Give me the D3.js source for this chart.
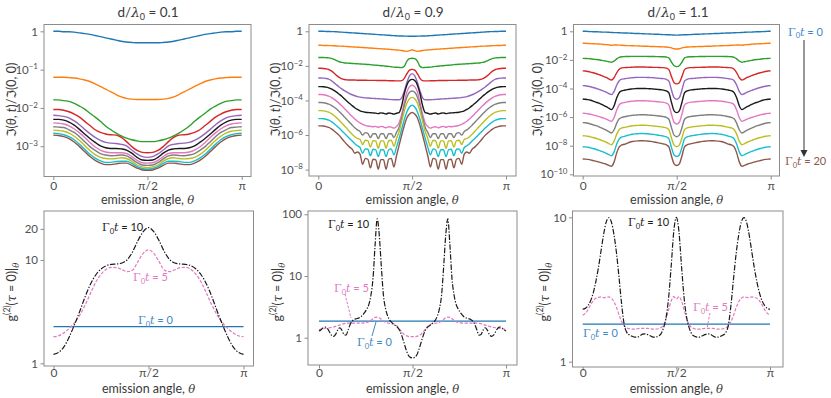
<!DOCTYPE html>
<html>
<head>
<meta charset="utf-8">
<script src="https://cdn.jsdelivr.net/npm/d3@7"></script>
<style>
  body { margin: 0; background: #fff; }
  text { font-family: Lato, "DejaVu Sans", sans-serif; }
</style>
</head>
<body>
<svg id="chart" width="831" height="398"></svg>
<script>
// ---- data ----
// every series is sampled on a uniform grid from theta = 0 to pi
var thetaTicks = [0, 90, 180];
var xTickLabels = ["0", "π/2", "π"];
var gammaT = [0, 2, 4, 6, 8, 10, 12, 14, 16, 18, 20];
var dOverLambda = ["0.1", "0.9", "1.1"];
var curveColors = ["#1f77b4", "#ff7f0e", "#2ca02c", "#d62728", "#9467bd", "#1a1a1a",
                   "#e377c2", "#7f7f7f", "#bcbd22", "#17becf", "#8c564b"];

// log10 of I(theta,t)/I(0,0), one row per Gamma0 t, d/lambda0 = 0.1 (5 deg steps)
var logI_d01 = [
  [0,0,-0.01,-0.01,-0.02,-0.04,-0.06,-0.08,-0.11,-0.14,-0.17,-0.2,-0.23,-0.26,-0.28,-0.29,-0.3,-0.3,-0.3,-0.3,-0.3,-0.29,-0.28,-0.26,-0.23,-0.2,-0.17,-0.14,-0.11,-0.08,-0.06,-0.04,-0.02,-0.01,-0.01,0,0],
  [-1.2,-1.2,-1.2,-1.21,-1.22,-1.24,-1.27,-1.31,-1.37,-1.44,-1.51,-1.58,-1.65,-1.71,-1.75,-1.77,-1.78,-1.78,-1.78,-1.78,-1.78,-1.77,-1.75,-1.71,-1.65,-1.58,-1.51,-1.44,-1.37,-1.31,-1.27,-1.24,-1.22,-1.21,-1.2,-1.2,-1.2],
  [-1.79,-1.79,-1.81,-1.83,-1.88,-1.95,-2.03,-2.14,-2.24,-2.35,-2.47,-2.57,-2.66,-2.73,-2.79,-2.83,-2.86,-2.88,-2.88,-2.88,-2.86,-2.83,-2.79,-2.73,-2.66,-2.57,-2.47,-2.35,-2.24,-2.14,-2.03,-1.95,-1.88,-1.83,-1.81,-1.79,-1.79],
  [-2.04,-2.04,-2.06,-2.1,-2.16,-2.24,-2.35,-2.46,-2.57,-2.64,-2.68,-2.7,-2.71,-2.77,-2.88,-3.01,-3.11,-3.16,-3.17,-3.16,-3.11,-3.01,-2.88,-2.77,-2.71,-2.7,-2.68,-2.64,-2.57,-2.46,-2.35,-2.24,-2.16,-2.1,-2.06,-2.04,-2.04],
  [-2.19,-2.2,-2.22,-2.26,-2.34,-2.44,-2.56,-2.67,-2.77,-2.85,-2.9,-2.92,-2.93,-2.95,-2.99,-3.1,-3.2,-3.27,-3.29,-3.27,-3.2,-3.1,-2.99,-2.95,-2.93,-2.92,-2.9,-2.85,-2.77,-2.67,-2.56,-2.44,-2.34,-2.26,-2.22,-2.2,-2.19],
  [-2.3,-2.3,-2.32,-2.37,-2.45,-2.56,-2.68,-2.8,-2.9,-2.99,-3.04,-3.06,-3.06,-3.07,-3.1,-3.18,-3.29,-3.36,-3.37,-3.36,-3.29,-3.18,-3.1,-3.07,-3.06,-3.06,-3.04,-2.99,-2.9,-2.8,-2.68,-2.56,-2.45,-2.37,-2.32,-2.3,-2.3],
  [-2.39,-2.4,-2.42,-2.47,-2.55,-2.65,-2.77,-2.9,-3.02,-3.1,-3.15,-3.17,-3.17,-3.17,-3.19,-3.27,-3.37,-3.43,-3.44,-3.43,-3.37,-3.27,-3.19,-3.17,-3.17,-3.17,-3.15,-3.1,-3.02,-2.9,-2.77,-2.65,-2.55,-2.47,-2.42,-2.4,-2.39],
  [-2.49,-2.5,-2.51,-2.57,-2.64,-2.75,-2.88,-3.01,-3.11,-3.19,-3.23,-3.25,-3.24,-3.23,-3.25,-3.33,-3.43,-3.49,-3.5,-3.49,-3.43,-3.33,-3.25,-3.23,-3.24,-3.25,-3.23,-3.19,-3.11,-3.01,-2.88,-2.75,-2.64,-2.57,-2.51,-2.5,-2.49],
  [-2.58,-2.59,-2.61,-2.66,-2.74,-2.85,-2.98,-3.11,-3.22,-3.29,-3.32,-3.33,-3.32,-3.3,-3.32,-3.39,-3.49,-3.54,-3.56,-3.54,-3.49,-3.39,-3.32,-3.3,-3.32,-3.33,-3.32,-3.29,-3.22,-3.11,-2.98,-2.85,-2.74,-2.66,-2.61,-2.59,-2.58],
  [-2.66,-2.67,-2.7,-2.75,-2.83,-2.95,-3.08,-3.21,-3.31,-3.38,-3.42,-3.42,-3.4,-3.39,-3.39,-3.45,-3.53,-3.58,-3.6,-3.58,-3.53,-3.45,-3.39,-3.39,-3.4,-3.42,-3.42,-3.38,-3.31,-3.21,-3.08,-2.95,-2.83,-2.75,-2.7,-2.67,-2.66],
  [-2.71,-2.72,-2.75,-2.8,-2.89,-3.01,-3.14,-3.27,-3.37,-3.44,-3.48,-3.48,-3.46,-3.44,-3.44,-3.5,-3.57,-3.62,-3.63,-3.62,-3.57,-3.5,-3.44,-3.44,-3.46,-3.48,-3.48,-3.44,-3.37,-3.27,-3.14,-3.01,-2.89,-2.8,-2.75,-2.72,-2.71]
];

// d/lambda0 = 0.9 (2.5 deg steps)
var logI_d09 = [
  [0,0,0,-0.01,-0.01,-0.02,-0.02,-0.03,-0.04,-0.05,-0.06,-0.07,-0.08,-0.09,-0.1,-0.11,-0.12,-0.13,-0.14,-0.15,-0.16,-0.17,-0.18,-0.19,-0.2,-0.21,-0.22,-0.23,-0.24,-0.25,-0.26,-0.27,-0.27,-0.28,-0.28,-0.29,-0.29,
   -0.29,-0.28,-0.28,-0.27,-0.27,-0.26,-0.25,-0.24,-0.23,-0.22,-0.21,-0.2,-0.19,-0.18,-0.17,-0.16,-0.15,-0.14,-0.13,-0.12,-0.11,-0.1,-0.09,-0.08,-0.07,-0.06,-0.05,-0.04,-0.03,-0.02,-0.02,-0.01,-0.01,0,0,0],
  [-0.81,-0.81,-0.82,-0.82,-0.83,-0.83,-0.84,-0.85,-0.86,-0.86,-0.87,-0.88,-0.89,-0.9,-0.91,-0.92,-0.93,-0.94,-0.95,-0.96,-0.97,-0.98,-0.99,-1,-1.01,-1.02,-1.03,-1.04,-1.05,-1.07,-1.08,-1.09,-1.11,-1.14,-1.16,-1.12,-1.07,
   -1.12,-1.16,-1.14,-1.11,-1.09,-1.08,-1.07,-1.05,-1.04,-1.03,-1.02,-1.01,-1,-0.99,-0.98,-0.97,-0.96,-0.95,-0.94,-0.93,-0.92,-0.91,-0.9,-0.89,-0.88,-0.87,-0.86,-0.86,-0.85,-0.84,-0.83,-0.83,-0.82,-0.82,-0.81,-0.81],
  [-1.52,-1.52,-1.52,-1.53,-1.54,-1.57,-1.62,-1.69,-1.76,-1.8,-1.83,-1.84,-1.85,-1.86,-1.87,-1.88,-1.89,-1.9,-1.91,-1.92,-1.93,-1.95,-1.96,-1.97,-1.99,-2,-2.02,-2.03,-2.05,-2.07,-2.08,-2.09,-2.1,-2.02,-1.72,-1.58,-1.56,
   -1.58,-1.72,-2.02,-2.1,-2.09,-2.08,-2.07,-2.05,-2.03,-2.02,-2,-1.99,-1.97,-1.96,-1.95,-1.93,-1.92,-1.91,-1.9,-1.89,-1.88,-1.87,-1.86,-1.85,-1.84,-1.83,-1.8,-1.76,-1.69,-1.62,-1.57,-1.54,-1.53,-1.52,-1.52,-1.52],
  [-2.14,-2.14,-2.15,-2.17,-2.21,-2.29,-2.41,-2.55,-2.67,-2.75,-2.79,-2.81,-2.82,-2.82,-2.82,-2.83,-2.83,-2.83,-2.83,-2.84,-2.84,-2.84,-2.84,-2.85,-2.85,-2.85,-2.85,-2.86,-2.86,-2.86,-2.87,-2.87,-2.85,-2.72,-2.45,-2.25,-2.2,
   -2.25,-2.45,-2.72,-2.85,-2.87,-2.87,-2.86,-2.86,-2.86,-2.85,-2.85,-2.85,-2.85,-2.84,-2.84,-2.84,-2.84,-2.83,-2.83,-2.83,-2.83,-2.82,-2.82,-2.82,-2.81,-2.79,-2.75,-2.67,-2.55,-2.41,-2.29,-2.21,-2.17,-2.15,-2.14,-2.14],
  [-2.7,-2.7,-2.71,-2.73,-2.77,-2.85,-2.97,-3.1,-3.22,-3.33,-3.43,-3.52,-3.6,-3.67,-3.73,-3.78,-3.81,-3.83,-3.85,-3.86,-3.87,-3.88,-3.89,-3.9,-3.91,-3.92,-3.93,-3.94,-3.95,-3.96,-3.96,-3.96,-3.85,-3.45,-2.95,-2.58,-2.45,
   -2.58,-2.95,-3.45,-3.85,-3.96,-3.96,-3.96,-3.95,-3.94,-3.93,-3.92,-3.91,-3.9,-3.89,-3.88,-3.87,-3.86,-3.85,-3.83,-3.81,-3.78,-3.73,-3.67,-3.6,-3.52,-3.43,-3.33,-3.22,-3.1,-2.97,-2.85,-2.77,-2.73,-2.71,-2.7,-2.7],
  [-3.2,-3.2,-3.21,-3.23,-3.27,-3.33,-3.42,-3.52,-3.64,-3.76,-3.9,-4.04,-4.18,-4.3,-4.42,-4.52,-4.6,-4.65,-4.68,-4.7,-4.71,-4.72,-4.73,-4.76,-4.72,-4.74,-4.78,-4.73,-4.75,-4.79,-4.74,-4.7,-4.3,-3.6,-3.1,-2.85,-2.78,
   -2.85,-3.1,-3.6,-4.3,-4.7,-4.74,-4.79,-4.75,-4.73,-4.78,-4.74,-4.72,-4.76,-4.73,-4.72,-4.71,-4.7,-4.68,-4.65,-4.6,-4.52,-4.42,-4.3,-4.18,-4.04,-3.9,-3.76,-3.64,-3.52,-3.42,-3.33,-3.27,-3.23,-3.21,-3.2,-3.2],
  [-3.66,-3.66,-3.67,-3.7,-3.75,-3.82,-3.92,-4.04,-4.17,-4.31,-4.46,-4.62,-4.78,-4.93,-5.07,-5.2,-5.3,-5.38,-5.44,-5.48,-5.5,-5.52,-5.5,-5.55,-5.5,-5.53,-5.58,-5.52,-5.54,-5.6,-5.5,-5.3,-4.8,-4.1,-3.5,-3.2,-3.12,
   -3.2,-3.5,-4.1,-4.8,-5.3,-5.5,-5.6,-5.54,-5.52,-5.58,-5.53,-5.5,-5.55,-5.5,-5.52,-5.5,-5.48,-5.44,-5.38,-5.3,-5.2,-5.07,-4.93,-4.78,-4.62,-4.46,-4.31,-4.17,-4.04,-3.92,-3.82,-3.75,-3.7,-3.67,-3.66,-3.66],
  [-4.12,-4.12,-4.13,-4.16,-4.21,-4.28,-4.38,-4.5,-4.64,-4.79,-4.95,-5.11,-5.27,-5.43,-5.58,-5.7,-5.8,-6,-5.86,-5.9,-6.15,-5.92,-5.93,-6.2,-5.93,-5.93,-6.2,-5.93,-5.92,-6.15,-5.85,-5.55,-5,-4.3,-3.8,-3.53,-3.45,
   -3.53,-3.8,-4.3,-5,-5.55,-5.85,-6.15,-5.92,-5.93,-6.2,-5.93,-5.93,-6.2,-5.93,-5.92,-6.15,-5.9,-5.86,-6,-5.8,-5.7,-5.58,-5.43,-5.27,-5.11,-4.95,-4.79,-4.64,-4.5,-4.38,-4.28,-4.21,-4.16,-4.13,-4.12,-4.12],
  [-4.59,-4.59,-4.6,-4.63,-4.68,-4.76,-4.87,-5,-5.15,-5.31,-5.47,-5.63,-5.8,-5.96,-6.1,-6.2,-6.25,-6.55,-6.3,-6.32,-6.7,-6.33,-6.34,-6.76,-6.34,-6.34,-6.76,-6.33,-6.3,-6.65,-6.2,-5.8,-5.2,-4.6,-4.15,-3.9,-3.82,
   -3.9,-4.15,-4.6,-5.2,-5.8,-6.2,-6.65,-6.3,-6.33,-6.76,-6.34,-6.34,-6.76,-6.34,-6.33,-6.7,-6.32,-6.3,-6.55,-6.25,-6.2,-6.1,-5.96,-5.8,-5.63,-5.47,-5.31,-5.15,-5,-4.87,-4.76,-4.68,-4.63,-4.6,-4.59,-4.59],
  [-5.05,-5.05,-5.06,-5.09,-5.14,-5.22,-5.33,-5.46,-5.6,-5.75,-5.9,-6.05,-6.2,-6.35,-6.5,-6.62,-6.72,-7.05,-6.8,-6.82,-7.2,-6.82,-6.85,-7.25,-6.85,-6.85,-7.25,-6.85,-6.8,-7.15,-6.7,-6.2,-5.65,-5.1,-4.65,-4.38,-4.28,
   -4.38,-4.65,-5.1,-5.65,-6.2,-6.7,-7.15,-6.8,-6.85,-7.25,-6.85,-6.85,-7.25,-6.85,-6.82,-7.2,-6.82,-6.8,-7.05,-6.72,-6.62,-6.5,-6.35,-6.2,-6.05,-5.9,-5.75,-5.6,-5.46,-5.33,-5.22,-5.14,-5.09,-5.06,-5.05,-5.05],
  [-5.47,-5.47,-5.48,-5.51,-5.56,-5.64,-5.75,-5.88,-6.02,-6.2,-6.38,-6.55,-6.7,-6.82,-7.05,-6.98,-7.1,-7.7,-7.35,-7.4,-7.9,-7.4,-7.42,-7.98,-7.42,-7.42,-7.98,-7.4,-7.35,-7.85,-7.2,-6.6,-6,-5.45,-5,-4.78,-4.7,
   -4.78,-5,-5.45,-6,-6.6,-7.2,-7.85,-7.35,-7.4,-7.98,-7.42,-7.42,-7.98,-7.42,-7.4,-7.9,-7.4,-7.35,-7.7,-7.1,-6.98,-7.05,-6.82,-6.7,-6.55,-6.38,-6.2,-6.02,-5.88,-5.75,-5.64,-5.56,-5.51,-5.48,-5.47,-5.47]
];

// d/lambda0 = 1.1 (2.5 deg steps)
var logI_d11 = [
  [0,0,-0.01,-0.02,-0.03,-0.03,-0.04,-0.05,-0.06,-0.06,-0.07,-0.08,-0.09,-0.09,-0.1,-0.11,-0.12,-0.12,-0.13,-0.14,-0.15,-0.15,-0.16,-0.17,-0.18,-0.18,-0.19,-0.2,-0.21,-0.21,-0.22,-0.23,-0.24,-0.24,-0.25,-0.26,-0.27,
   -0.26,-0.25,-0.24,-0.24,-0.23,-0.22,-0.21,-0.21,-0.2,-0.19,-0.18,-0.18,-0.17,-0.16,-0.15,-0.15,-0.14,-0.13,-0.12,-0.12,-0.11,-0.1,-0.09,-0.09,-0.08,-0.07,-0.06,-0.06,-0.05,-0.04,-0.03,-0.03,-0.02,-0.01,0,0],
  [-0.84,-0.84,-0.85,-0.86,-0.87,-0.88,-0.89,-0.9,-0.92,-0.93,-0.95,-0.97,-0.96,-0.96,-0.97,-0.98,-0.99,-1,-1,-1.01,-1.02,-1.02,-1.03,-1.04,-1.04,-1.05,-1.06,-1.06,-1.07,-1.08,-1.08,-1.09,-1.1,-1.12,-1.16,-1.22,-1.24,
   -1.22,-1.16,-1.12,-1.1,-1.09,-1.08,-1.08,-1.07,-1.06,-1.06,-1.05,-1.04,-1.04,-1.03,-1.02,-1.02,-1.01,-1,-1,-0.99,-0.98,-0.97,-0.96,-0.96,-0.97,-0.95,-0.93,-0.92,-0.9,-0.89,-0.88,-0.87,-0.86,-0.85,-0.84,-0.84],
  [-1.89,-1.9,-1.91,-1.92,-1.95,-1.97,-1.99,-2.02,-2.05,-2.09,-2.13,-2.16,-2.09,-1.93,-1.82,-1.78,-1.77,-1.76,-1.76,-1.75,-1.75,-1.75,-1.75,-1.75,-1.75,-1.76,-1.76,-1.76,-1.77,-1.77,-1.78,-1.78,-1.8,-1.86,-2.16,-2.41,-2.47,
   -2.41,-2.16,-1.86,-1.8,-1.78,-1.78,-1.77,-1.77,-1.76,-1.76,-1.76,-1.75,-1.75,-1.75,-1.75,-1.75,-1.75,-1.76,-1.76,-1.77,-1.78,-1.82,-1.93,-2.09,-2.16,-2.13,-2.09,-2.05,-2.02,-1.99,-1.97,-1.95,-1.92,-1.91,-1.9,-1.89],
  [-2.77,-2.78,-2.81,-2.85,-2.9,-2.95,-3.01,-3.08,-3.15,-3.23,-3.33,-3.41,-3.25,-2.9,-2.65,-2.56,-2.54,-2.53,-2.52,-2.51,-2.5,-2.5,-2.5,-2.5,-2.5,-2.51,-2.51,-2.52,-2.52,-2.53,-2.54,-2.54,-2.57,-2.68,-3.17,-3.59,-3.68,
   -3.59,-3.17,-2.68,-2.57,-2.54,-2.54,-2.53,-2.52,-2.52,-2.51,-2.51,-2.5,-2.5,-2.5,-2.5,-2.5,-2.51,-2.52,-2.53,-2.54,-2.56,-2.65,-2.9,-3.25,-3.41,-3.33,-3.23,-3.15,-3.08,-3.01,-2.95,-2.9,-2.85,-2.81,-2.78,-2.77],
  [-3.8,-3.81,-3.84,-3.88,-3.93,-3.98,-4.04,-4.11,-4.18,-4.26,-4.35,-4.43,-4.22,-3.77,-3.46,-3.35,-3.32,-3.29,-3.27,-3.25,-3.23,-3.22,-3.22,-3.22,-3.22,-3.23,-3.24,-3.25,-3.27,-3.28,-3.3,-3.31,-3.36,-3.49,-4.11,-4.64,-4.76,
   -4.64,-4.11,-3.49,-3.36,-3.31,-3.3,-3.28,-3.27,-3.25,-3.24,-3.23,-3.22,-3.22,-3.22,-3.22,-3.23,-3.25,-3.27,-3.29,-3.32,-3.35,-3.46,-3.77,-4.22,-4.43,-4.35,-4.26,-4.18,-4.11,-4.04,-3.98,-3.93,-3.88,-3.84,-3.81,-3.8],
  [-4.73,-4.75,-4.78,-4.82,-4.88,-4.95,-5.01,-5.09,-5.18,-5.27,-5.38,-5.48,-5.22,-4.67,-4.29,-4.16,-4.12,-4.08,-4.05,-4.03,-4.01,-4,-4,-4,-4,-4.01,-4.02,-4.04,-4.05,-4.07,-4.09,-4.11,-4.17,-4.31,-4.98,-5.56,-5.69,
   -5.56,-4.98,-4.31,-4.17,-4.11,-4.09,-4.07,-4.05,-4.04,-4.02,-4.01,-4,-4,-4,-4,-4.01,-4.03,-4.05,-4.08,-4.12,-4.16,-4.29,-4.67,-5.22,-5.48,-5.38,-5.27,-5.18,-5.09,-5.01,-4.95,-4.88,-4.82,-4.78,-4.75,-4.73],
  [-5.73,-5.74,-5.77,-5.8,-5.85,-5.9,-5.95,-6.01,-6.07,-6.14,-6.23,-6.3,-6.05,-5.52,-5.14,-5.02,-4.98,-4.94,-4.91,-4.89,-4.87,-4.86,-4.86,-4.86,-4.86,-4.87,-4.88,-4.9,-4.91,-4.93,-4.95,-4.97,-5.03,-5.16,-5.8,-6.36,-6.48,
   -6.36,-5.8,-5.16,-5.03,-4.97,-4.95,-4.93,-4.91,-4.9,-4.88,-4.87,-4.86,-4.86,-4.86,-4.86,-4.87,-4.89,-4.91,-4.94,-4.98,-5.02,-5.14,-5.52,-6.05,-6.3,-6.23,-6.14,-6.07,-6.01,-5.95,-5.9,-5.85,-5.8,-5.77,-5.74,-5.73],
  [-6.39,-6.4,-6.43,-6.48,-6.54,-6.6,-6.66,-6.74,-6.82,-6.91,-7.02,-7.11,-6.9,-6.44,-6.12,-6.02,-5.98,-5.94,-5.9,-5.88,-5.86,-5.85,-5.84,-5.84,-5.84,-5.85,-5.87,-5.88,-5.9,-5.92,-5.94,-5.97,-6.02,-6.15,-6.74,-7.26,-7.37,
   -7.26,-6.74,-6.15,-6.02,-5.97,-5.94,-5.92,-5.9,-5.88,-5.87,-5.85,-5.84,-5.84,-5.84,-5.85,-5.86,-5.88,-5.9,-5.94,-5.98,-6.02,-6.12,-6.44,-6.9,-7.11,-7.02,-6.91,-6.82,-6.74,-6.66,-6.6,-6.54,-6.48,-6.43,-6.4,-6.39],
  [-7.3,-7.31,-7.34,-7.38,-7.43,-7.48,-7.54,-7.61,-7.68,-7.76,-7.85,-7.93,-7.7,-7.21,-6.87,-6.76,-6.72,-6.68,-6.64,-6.61,-6.59,-6.58,-6.57,-6.57,-6.57,-6.59,-6.6,-6.62,-6.64,-6.66,-6.68,-6.71,-6.76,-6.88,-7.46,-7.96,-8.07,
   -7.96,-7.46,-6.88,-6.76,-6.71,-6.68,-6.66,-6.64,-6.62,-6.6,-6.59,-6.57,-6.57,-6.57,-6.58,-6.59,-6.61,-6.64,-6.68,-6.72,-6.76,-6.87,-7.21,-7.7,-7.93,-7.85,-7.76,-7.68,-7.61,-7.54,-7.48,-7.43,-7.38,-7.34,-7.31,-7.3],
  [-8.07,-8.08,-8.11,-8.15,-8.2,-8.25,-8.31,-8.38,-8.45,-8.53,-8.62,-8.7,-8.45,-7.9,-7.52,-7.39,-7.35,-7.29,-7.24,-7.2,-7.17,-7.16,-7.15,-7.15,-7.16,-7.17,-7.19,-7.21,-7.24,-7.27,-7.3,-7.33,-7.39,-7.52,-8.13,-8.65,-8.76,
   -8.65,-8.13,-7.52,-7.39,-7.33,-7.3,-7.27,-7.24,-7.21,-7.19,-7.17,-7.16,-7.15,-7.15,-7.16,-7.17,-7.2,-7.24,-7.29,-7.35,-7.39,-7.52,-7.9,-8.45,-8.7,-8.62,-8.53,-8.45,-8.38,-8.31,-8.25,-8.2,-8.15,-8.11,-8.08,-8.07],
  [-8.93,-8.94,-8.96,-8.99,-9.04,-9.08,-9.13,-9.18,-9.24,-9.3,-9.38,-9.44,-9.15,-8.52,-8.09,-7.95,-7.9,-7.83,-7.76,-7.71,-7.68,-7.66,-7.65,-7.65,-7.66,-7.68,-7.7,-7.73,-7.76,-7.8,-7.84,-7.88,-7.94,-8.08,-8.72,-9.27,-9.39,
   -9.27,-8.72,-8.08,-7.94,-7.88,-7.84,-7.8,-7.76,-7.73,-7.7,-7.68,-7.66,-7.65,-7.65,-7.66,-7.68,-7.71,-7.76,-7.83,-7.9,-7.95,-8.09,-8.52,-9.15,-9.44,-9.38,-9.3,-9.24,-9.18,-9.13,-9.08,-9.04,-8.99,-8.96,-8.94,-8.93]
];

var ticksExp_d01 = [0, -1, -2, -3];
var ticksExp_d09 = [0, -2, -4, -6, -8];
var ticksExp_d11 = [0, -2, -4, -6, -8, -10];

// g2(tau=0)|theta for Gamma0 t = 0, 5, 10
var g2_d01_t0 = [2.26, 2.26];
var g2_d01_t5 = [1.81,1.85,1.98,2.18,2.48,2.94,3.67,4.75,6.08,7.26,8.13,8.49,8.43,8.05,7.71,8,9.64,11.6,12.5,11.6,9.64,8,7.71,8.05,8.43,8.49,8.13,7.26,6.08,4.75,3.67,2.94,2.48,2.18,1.98,1.85,1.81];
var g2_d01_t10 = [1.22,1.28,1.45,1.81,2.38,3.21,4.42,5.82,7.16,8.18,8.81,9.08,9.14,9.35,10.1,12.05,15.4,18.8,20.6,18.8,15.4,12.05,10.1,9.35,9.14,9.08,8.81,8.18,7.16,5.82,4.42,3.21,2.38,1.81,1.45,1.28,1.22];

var g2_d09_t0 = [1.86, 1.86];
var g2_d09_t5 = [1.36,1.38,1.4,1.42,1.44,1.45,1.47,1.49,1.53,1.57,1.6,1.64,1.69,1.71,1.73,1.73,1.73,1.73,1.73,1.73,1.73,1.73,1.75,1.77,1.82,1.91,2.03,2.14,2.16,2.11,1.98,1.86,1.77,1.73,1.71,1.69,1.67,1.6,1.49,1.35,1.22,1.13,1.08,1.05,1.04,1.04,
  1.04,1.05,1.08,1.13,1.22,1.35,1.49,1.6,1.67,1.69,1.71,1.73,1.77,1.86,1.98,2.11,2.16,2.14,2.03,1.91,1.82,1.77,1.75,1.73,1.73,1.73,1.73,1.73,1.73,1.73,1.73,1.71,1.69,1.64,1.6,1.57,1.53,1.49,1.47,1.45,1.44,1.42,1.4,1.38,1.36];
var g2_d09_t10 = [1.28,1.35,1.45,1.49,1.42,1.25,1.1,1.05,1.13,1.33,1.45,1.33,1.13,1.1,1.33,1.64,1.86,1.98,2.03,2.08,2.16,2.33,2.57,2.92,3.47,4.92,9.16,31.8,84,46.2,14.2,4.92,2.99,2.27,1.93,1.77,1.64,1.55,1.45,1.28,1.04,0.81,0.63,0.52,0.48,0.47,
  0.48,0.52,0.63,0.81,1.04,1.28,1.45,1.55,1.64,1.77,1.93,2.27,2.99,4.92,14.2,46.2,84,31.8,9.16,4.92,3.47,2.92,2.57,2.33,2.16,2.08,2.03,1.98,1.86,1.64,1.33,1.1,1.13,1.33,1.45,1.33,1.13,1.05,1.1,1.25,1.42,1.49,1.45,1.35,1.28];

var g2_d11_t0 = [1.82, 1.82];
var g2_d11_t5 = [2.1,2.16,2.28,2.47,2.63,2.75,2.79,2.81,2.78,2.79,2.81,2.75,2.61,2.37,2.1,1.89,1.77,1.71,1.69,1.68,1.68,1.69,1.7,1.7,1.7,1.7,1.69,1.68,1.68,1.69,1.72,1.79,1.98,2.28,2.63,2.82,2.72,
  2.82,2.63,2.28,1.98,1.79,1.72,1.69,1.68,1.68,1.69,1.7,1.7,1.7,1.7,1.69,1.68,1.68,1.69,1.71,1.77,1.89,2.1,2.37,2.61,2.75,2.81,2.79,2.78,2.81,2.79,2.75,2.63,2.47,2.28,2.16,2.1];
var g2_d11_t10 = [2.31,2.34,2.44,2.63,2.97,3.55,4.44,5.78,7.55,9.23,9.95,9.33,7.62,5.64,3.78,2.47,1.79,1.59,1.53,1.5,1.48,1.48,1.51,1.55,1.56,1.54,1.51,1.48,1.48,1.5,1.55,1.7,2,2.75,4.55,7.96,10,
  7.96,4.55,2.75,2,1.7,1.55,1.5,1.48,1.48,1.51,1.54,1.56,1.55,1.51,1.48,1.48,1.5,1.53,1.59,1.79,2.47,3.78,5.64,7.62,9.33,9.95,9.23,7.55,5.78,4.44,3.55,2.97,2.63,2.44,2.34,2.31];

var g2Ticks_d01 = [1, 10, 20];
var g2Ticks_d09 = [1, 10, 100];
var g2Ticks_d11 = [1, 10];

// ---- drawing ----
var svg = d3.select("#chart");
var frameColor = "#8c8c8c", tickText = "#505050", labelText = "#3a3a3a";
var tickFont = 11.5;

// sample i of n lies at theta = i * 180/(n-1) degrees
function thetaAt(i, n) { return i * 180 / (n - 1); }

function makePanel(id, fx, fy, tx, logRange, xTickBase) {
  var x = d3.scaleLinear().domain([0, 180]).range(tx);
  var y = d3.scaleLog().domain([Math.pow(10, logRange[0]), Math.pow(10, logRange[1])]).range([fy[1], fy[0]]);
  svg.append("clipPath").attr("id", "clip" + id)
    .append("rect").attr("x", fx[0]).attr("y", fy[0]).attr("width", fx[1] - fx[0]).attr("height", fy[1] - fy[0]);
  var plot = svg.append("g").attr("clip-path", "url(#clip" + id + ")");
  svg.append("rect").attr("x", fx[0]).attr("y", fy[0])
    .attr("width", fx[1] - fx[0]).attr("height", fy[1] - fy[0])
    .attr("fill", "none").attr("stroke", frameColor).attr("stroke-width", 1);

  var xAxis = d3.axisBottom(x).tickValues(thetaTicks)
    .tickFormat(function(d, i) { return xTickLabels[i]; })
    .tickSize(3.5).tickSizeOuter(0);
  var gx = svg.append("g").attr("transform", "translate(0," + fy[1] + ")").call(xAxis);
  gx.select(".domain").remove();
  gx.selectAll(".tick line").attr("stroke", frameColor);
  gx.selectAll(".tick text").attr("fill", tickText).attr("font-size", tickFont + 0.5)
    .attr("font-family", "Lato, 'DejaVu Sans', sans-serif")
    .attr("y", xTickBase - fy[1]).attr("dy", 0);
  return {x: x, y: y, plot: plot, fx: fx, fy: fy};
}

function yAxisLog(p, ticks, asPower) {
  var ax = d3.axisLeft(p.y).tickValues(ticks).tickSize(3.5).tickSizeOuter(0).tickPadding(2.5)
    .tickFormat(function() { return ""; });
  var gy = svg.append("g").attr("transform", "translate(" + p.fx[0] + ",0)").call(ax);
  gy.select(".domain").remove();
  gy.selectAll(".tick line").attr("stroke", frameColor);
  gy.selectAll(".tick text").attr("fill", tickText).attr("font-size", tickFont)
    .attr("font-family", "Lato, 'DejaVu Sans', sans-serif")
    .each(function(d) {
      var t = d3.select(this);
      var e = Math.round(Math.log10(d));
      if (!asPower || e === 0) { t.text(d3.format("~g")(d)); return; }
      t.append("tspan").text("10");
      t.append("tspan").attr("font-size", 8).attr("dy", -4.5).text("\u2212" + (-e));
    });
}

function xLabel(cx, y) {
  var t = svg.append("text").attr("x", cx).attr("y", y).attr("text-anchor", "middle")
    .attr("font-size", 12.5).attr("fill", labelText);
  t.append("tspan").text("emission angle, ");
  t.append("tspan").attr("font-style", "italic").attr("font-family", "'DejaVu Serif', serif").attr("font-size", 11.5).text("θ");
}

function intensityLabel(x, cy) {
  var t = svg.append("text").attr("transform", "translate(" + x + "," + cy + ") rotate(-90)")
    .attr("text-anchor", "middle").attr("font-size", 12.5).attr("fill", labelText)
    .attr("font-family", "'DejaVu Serif', serif");
  t.append("tspan").text("ℑ(");
  t.append("tspan").attr("font-style", "italic").text("θ");
  t.append("tspan").text(", ");
  t.append("tspan").attr("font-style", "italic").text("t");
  t.append("tspan").text(")/ℑ(0, 0)");
}

function g2Label(x, cy) {
  var t = svg.append("text").attr("transform", "translate(" + x + "," + cy + ") rotate(-90)")
    .attr("text-anchor", "middle").attr("font-size", 12.5).attr("fill", labelText);
  t.append("tspan").text("g");
  t.append("tspan").attr("font-size", 8.5).attr("dy", -6).text("(2)");
  t.append("tspan").attr("dy", 6).text("(");
  t.append("tspan").attr("font-family", "'DejaVu Serif', serif").attr("font-style", "italic").text("τ");
  t.append("tspan").text(" = 0)|");
  t.append("tspan").attr("font-size", 8.5).attr("dy", 3).attr("font-family", "'DejaVu Serif', serif").attr("font-style", "italic").text("θ");
}

function title(cx, val) {
  var t = svg.append("text").attr("x", cx).attr("y", 17).attr("text-anchor", "middle")
    .attr("font-size", 13.5).attr("fill", labelText);
  t.append("tspan").text("d/");
  t.append("tspan").attr("font-family", "'DejaVu Serif', serif").attr("font-style", "italic").text("λ");
  t.append("tspan").attr("font-size", 9).attr("dy", 3).text("0");
  t.append("tspan").attr("dy", -3).text(" = " + val);
}

function gammaLabel(x, y, val, color) {
  var t = svg.append("text").attr("x", x).attr("y", y).attr("fill", color).attr("font-size", 11);
  t.append("tspan").attr("font-family", "'DejaVu Serif', serif").text("Γ");
  t.append("tspan").attr("font-size", 7.5).attr("dy", 2.5).text("0");
  t.append("tspan").attr("dy", -2.5).attr("font-family", "'DejaVu Serif', serif").attr("font-style", "italic").text("t");
  t.append("tspan").text(" = " + val);
}

// top row: intensity
var topCfg = [
  {data: logI_d01, ticks: ticksExp_d01, fx: [44, 251], fy: [24.5, 176.5], tx: [53.3, 241.7], lr: [-3.79, 0.178], yl: 16, tc: 148},
  {data: logI_d09, ticks: ticksExp_d09, fx: [309, 516], fy: [24.5, 176], tx: [318.3, 506], lr: [-8.37, 0.393], yl: 280, tc: 413},
  {data: logI_d11, ticks: ticksExp_d11, fx: [573.5, 779.5], fy: [24.5, 176], tx: [582.7, 770.7], lr: [-10.12, 0.476], yl: 542, tc: 678}
];

topCfg.forEach(function(c, k) {
  var p = makePanel("t" + k, c.fx, c.fy, c.tx, c.lr, 190);
  yAxisLog(p, c.ticks.map(function(e) { return Math.pow(10, e); }), true);
  var line = d3.line()
    .x(function(d, i, arr) { return p.x(thetaAt(i, arr.length)); })
    .y(function(d) { return p.y(Math.pow(10, d)); })
    .curve(d3.curveMonotoneX);
  p.plot.selectAll("path.curve").data(c.data).enter().append("path")
    .attr("class", "curve")
    .attr("d", line)
    .attr("fill", "none")
    .attr("stroke", function(d, i) { return curveColors[i]; })
    .attr("stroke-width", 1.4);
  title(c.tc, dOverLambda[k]);
  xLabel((c.tx[0] + c.tx[1]) / 2, 204);
  intensityLabel(c.yl, 100);
});

// arrow on the right: Gamma0 t from 0 to 20
gammaLabel(788, 35.5, gammaT[0], "#3d88c3");
gammaLabel(785, 165, gammaT[gammaT.length - 1], curveColors[10]);
svg.append("line").attr("x1", 804).attr("x2", 804).attr("y1", 40).attr("y2", 151)
  .attr("stroke", "#333").attr("stroke-width", 1);
svg.append("path").attr("d", "M800.5,150 L807.5,150 L804,157 Z").attr("fill", "#333");

// bottom row: g2
var g2Style = [
  {color: "#1f77b4", dash: null, w: 1.3},
  {color: "#e377c2", dash: "3.2,1.6", w: 1.2},
  {color: "#1a1a1a", dash: "5.5,1.6,1.3,1.6", w: 1.2}
];
var botCfg = [
  {series: [g2_d01_t0, g2_d01_t5, g2_d01_t10], ticks: g2Ticks_d01, fx: [44, 253.5], fy: [211, 366], tx: [53.5, 243.5], lr: [-0.026, 1.474], yl: 16},
  {series: [g2_d09_t0, g2_d09_t5, g2_d09_t10], ticks: g2Ticks_d09, fx: [308, 517], fy: [211, 365], tx: [319, 506], lr: [-0.442, 2.053], yl: 282},
  {series: [g2_d11_t0, g2_d11_t5, g2_d11_t10], ticks: g2Ticks_d11, fx: [572.5, 783], fy: [211, 367], tx: [582.7, 770], lr: [-0.037, 1.044], yl: 549}
];

botCfg.forEach(function(c, k) {
  var p = makePanel("b" + k, c.fx, c.fy, c.tx, c.lr, 377);
  yAxisLog(p, c.ticks, false);
  var line = d3.line()
    .x(function(d, i, arr) { return p.x(thetaAt(i, arr.length)); })
    .y(function(d) { return p.y(d); })
    .curve(d3.curveMonotoneX);
  p.plot.selectAll("path.g2").data(c.series).enter().append("path")
    .attr("class", "g2")
    .attr("d", line)
    .attr("fill", "none")
    .attr("stroke", function(d, i) { return g2Style[i].color; })
    .attr("stroke-dasharray", function(d, i) { return g2Style[i].dash; })
    .attr("stroke-width", function(d, i) { return g2Style[i].w; });
  xLabel((c.tx[0] + c.tx[1]) / 2, 393);
  g2Label(c.yl, 292);
});

// in-panel labels
gammaLabel(102, 231, 10, "#1a1a1a");
gammaLabel(133, 281, 5, "#e377c2");
gammaLabel(138, 324, 0, "#3d88c3");

gammaLabel(328, 228, 10, "#1a1a1a");
gammaLabel(334, 292, 5, "#e377c2");
gammaLabel(357, 346, 0, "#3d88c3");
svg.append("line").attr("x1", 345).attr("y1", 294).attr("x2", 351).attr("y2", 318)
  .attr("stroke", "#e377c2").attr("stroke-dasharray", "2.5,1.5").attr("stroke-width", 1);
svg.append("line").attr("x1", 372).attr("y1", 336).attr("x2", 376).attr("y2", 322)
  .attr("stroke", "#3d88c3").attr("stroke-width", 1);

gammaLabel(628, 226, 10, "#1a1a1a");
gammaLabel(693, 311, 5, "#e377c2");
gammaLabel(583, 337, 0, "#3d88c3");
svg.append("line").attr("x1", 710).attr("y1", 313).attr("x2", 707).attr("y2", 328)
  .attr("stroke", "#e377c2").attr("stroke-dasharray", "2.5,1.5").attr("stroke-width", 1);
</script>
</body>
</html>
